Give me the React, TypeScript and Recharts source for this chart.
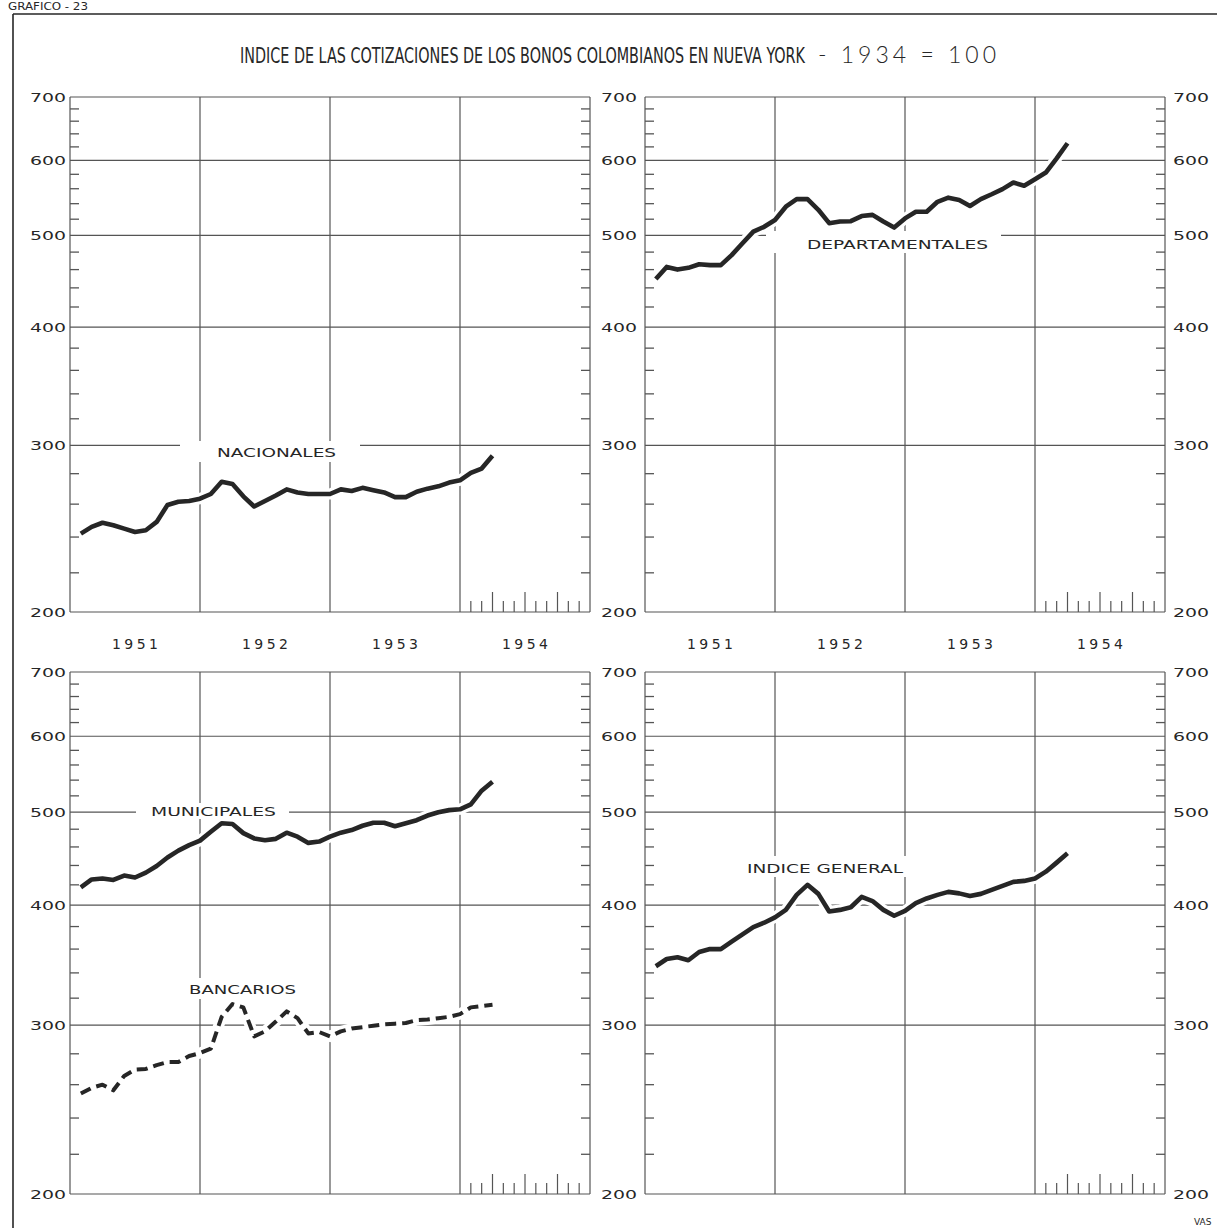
import { CartesianGrid, Line, LineChart, XAxis, YAxis } from "recharts";

// meses: ene 1951 .. mar 1954 (fin de mes), índice 1934 = 100
const nacionales = [
  242, 246, 248.5, 247, 245, 243, 244, 249, 259.5, 261.5, 262, 263.5,
  266.5, 274.5, 273, 265, 258.5, 262, 265.5, 269.5, 267.5, 266.5, 266.5, 266.5,
  269.5, 268.5, 270.5, 269, 267.5, 264.5, 264.5, 268, 270, 271.5, 274, 275.5,
  280.5, 283.5, 292.5,
];
const departamentales = [
  449.5, 463, 460, 462, 466, 465, 465, 476.5, 490.5, 504.5, 510.5, 519,
  536, 546, 546, 532, 515, 517, 517.5, 524, 525.5, 517, 509.5, 521,
  529.5, 529.5, 542.5, 548, 545, 537, 546, 552.5, 559.5, 568.5, 564, 573,
  582.5, 603, 625.5,
];
const municipales = [
  417.5, 425.5, 426.5, 425, 429.5, 427.5, 432.5, 439.5, 448.5, 456, 462, 467,
  477, 487, 486, 475.5, 469.5, 467.5, 469, 476, 471.5, 464.5, 466, 471.5,
  476, 479, 484, 487.5, 487.5, 483.5, 487, 490.5, 496, 500, 502.5, 503.5,
  509.5, 526.5, 538,
];
const bancarios = [
  254.5, 258, 260, 256.5, 265.5, 269.5, 270, 272.5, 274.5, 274.5, 278.5, 280.5,
  283.5, 306, 315.5, 313, 292, 295.5, 302.5, 310, 305, 294, 295, 292,
  295.5, 297.5, 298.5, 299.5, 300.5, 301, 301.5, 303.5, 304, 305, 306, 308,
  313, 314, 315,
];
const indiceGeneral = [
  345.5, 351.5, 353, 350.5, 357.5, 360, 360, 366.5, 373, 379.5, 383.5, 388.5,
  395.5, 410, 420, 411, 394, 395.5, 398, 408, 404, 395.5, 390, 394.5,
  402, 406.5, 410, 413, 411.5, 409, 411, 415, 419, 423, 424, 426.5,
  433.5, 443, 453,
];

const years = ["1951", "1952", "1953", "1954"];
const yearCenters = [6, 18, 30, 42];
const yearBounds = [0, 12, 24, 36, 48];
const monthTicks1954 = [37, 38, 39, 40, 41, 42, 43, 44, 45, 46, 47];
const quarterTicks = [39, 42, 45];
const majorY = [200, 300, 400, 500, 600, 700];
const minorY = [
  220, 240, 260, 280, 320, 340, 360, 380, 420, 440, 460, 480,
  520, 540, 560, 580, 620, 640, 660, 680,
];

const INK = "#262626";
const GRID = "#555";
const FONT = "'DejaVu Sans', sans-serif";
const NARROW = "'Liberation Sans Narrow', 'DejaVu Sans Condensed', sans-serif";

const toRows = (vals: number[]) => vals.map((v, i) => ({ m: i + 1, v }));

function YTick(props: any) {
  const { x, y, payload, side, showLabels } = props;
  const v = payload.value;
  if (majorY.includes(v)) {
    if (!showLabels) return <g />;
    return (
      <text x={x} y={y} dy={5} textAnchor={side === "left" ? "end" : "start"} fontSize={13} fill={INK}
        fontFamily={FONT} textLength={36} lengthAdjust="spacingAndGlyphs">
        {v}
      </text>
    );
  }
  const edge = side === "left" ? x + props.gap : x - props.gap;
  const inner = side === "left" ? edge + 9 : edge - 9;
  return <line x1={edge} x2={inner} y1={y} y2={y} stroke={GRID} strokeWidth={1.3} />;
}

function XTick(props: any) {
  const { x, y, payload, showYears } = props;
  const v = payload.value;
  const yi = yearCenters.indexOf(v);
  return (
    <g>
      {monthTicks1954.includes(v) && (
        <line x1={x} x2={x} y1={y} y2={y - (quarterTicks.includes(v) ? 20 : 11)} stroke={GRID} strokeWidth={1.2} />
      )}
      {showYears && yi >= 0 && (
        <text x={x} y={y + 37} textAnchor="middle" fontSize={14} fill={INK} fontFamily={FONT}
          textLength={46} lengthAdjust="spacing">
          {years[yi]}
        </text>
      )}
    </g>
  );
}

type Serie = { values: number[]; dashed?: boolean };

type PanelProps = {
  left: number; top: number; width: number; height: number;
  leftW: number; rightW: number; leftGap: number; rightLabels: boolean;
  xH: number; showYears: boolean; series: Serie[];
};

function Panel(p: PanelProps) {
  const xTicks = [...yearCenters.filter((t) => !monthTicks1954.includes(t)), ...monthTicks1954];
  return (
    <div style={{ position: "absolute", left: p.left, top: p.top }}>
      <LineChart width={p.width} height={p.height} margin={{ top: 17, right: 0, left: 0, bottom: 0 }}>
        <CartesianGrid yAxisId="l" stroke={GRID} strokeWidth={1.2} horizontalValues={majorY} verticalValues={yearBounds} />
        <XAxis type="number" dataKey="m" domain={[0, 48]} allowDataOverflow ticks={xTicks} interval={0}
          axisLine={false} tickLine={false} tickSize={0} tickMargin={0} height={p.xH}
          tick={(t: any) => <XTick {...t} showYears={p.showYears} />} />
        <YAxis yAxisId="l" orientation="left" type="number" scale="log" domain={[200, 700]} allowDataOverflow
          ticks={[...majorY, ...minorY]} interval={0} width={p.leftW} axisLine={false} tickLine={false}
          tickSize={0} tickMargin={p.leftGap}
          tick={(t: any) => <YTick {...t} side="left" gap={p.leftGap} showLabels />} />
        <YAxis yAxisId="r" orientation="right" type="number" scale="log" domain={[200, 700]} allowDataOverflow
          ticks={[...majorY, ...minorY]} interval={0} width={p.rightW} axisLine={false} tickLine={false}
          tickSize={0} tickMargin={8}
          tick={(t: any) => <YTick {...t} side="right" gap={8} showLabels={p.rightLabels} />} />
        {p.series.map((s, i) => (
          <Line key={"h" + i} yAxisId="r" data={toRows(s.values)} dataKey="v" type="linear" stroke="#fff"
            strokeWidth={11} dot={false} activeDot={false} isAnimationActive={false} />
        ))}
        {p.series.map((s, i) => (
          <Line key={"s" + i} yAxisId="l" data={toRows(s.values)} dataKey="v" type="linear" stroke={INK}
            strokeWidth={s.dashed ? 4 : 4.6} strokeDasharray={s.dashed ? "11 6" : undefined}
            strokeLinejoin="round" dot={false} activeDot={false} isAnimationActive={false} />
        ))}
      </LineChart>
    </div>
  );
}

const seriesLabels = [
  { text: "NACIONALES", x: 217, y: 457, w: 119, box: [180, 441, 180, 21] },
  { text: "DEPARTAMENTALES", x: 807, y: 249, w: 181, box: [766, 231, 235, 22] },
  { text: "MUNICIPALES", x: 151, y: 815.5, w: 125, box: [136, 803, 153, 16] },
  { text: "BANCARIOS", x: 189, y: 994, w: 107, box: [186, 978, 113, 21] },
  { text: "INDICE GENERAL", x: 747, y: 872.5, w: 156, box: [742, 856, 166, 21] },
];

export default function App() {
  return (
    <div style={{ position: "absolute", left: 0, top: 0, width: 1217, height: 1228, background: "#fff", overflow: "hidden" }}>
      <svg width={1217} height={1228} style={{ position: "absolute", left: 0, top: 0 }}>
        <text x={8} y={10} fontSize={10} fill={INK} fontFamily={NARROW}
          textLength={80} lengthAdjust="spacingAndGlyphs">GRAFICO - 23</text>
        <line x1={13} x2={13} y1={14} y2={1228} stroke={INK} strokeWidth={1.6} />
        <line x1={13} x2={1217} y1={14} y2={14} stroke={INK} strokeWidth={1.6} />
        <text transform="translate(240,63) scale(1,1.38)" x={0} y={0} fontSize={16} fill={INK} fontFamily={NARROW}
          textLength={565} lengthAdjust="spacingAndGlyphs">
          INDICE DE LAS COTIZACIONES DE LOS BONOS COLOMBIANOS EN NUEVA YORK
        </text>
        <text x={818} y={63} fontSize={23} fill={INK} fontFamily="Lato, sans-serif" fontWeight={300}
          textLength={178} lengthAdjust="spacing">- 1934 = 100</text>
        <text x={1194} y={1225} fontSize={9} fill={INK} fontFamily={FONT}>VAS</text>
      </svg>

      <Panel left={0} top={80} width={620} height={580} leftW={70} rightW={30} leftGap={4} rightLabels={false}
        xH={48} showYears series={[{ values: nacionales }]} />
      <Panel left={595} top={80} width={622} height={580} leftW={50} rightW={52} leftGap={8} rightLabels
        xH={48} showYears series={[{ values: departamentales }]} />
      <Panel left={0} top={655} width={620} height={559} leftW={70} rightW={30} leftGap={4} rightLabels={false}
        xH={20} showYears={false} series={[{ values: municipales }, { values: bancarios, dashed: true }]} />
      <Panel left={595} top={655} width={622} height={559} leftW={50} rightW={52} leftGap={8} rightLabels
        xH={20} showYears={false} series={[{ values: indiceGeneral }]} />

      <svg width={1217} height={1228} style={{ position: "absolute", left: 0, top: 0, pointerEvents: "none" }}>
        {seriesLabels.map((l) => (
          <g key={l.text}>
            <rect x={l.box[0]} y={l.box[1]} width={l.box[2]} height={l.box[3]} fill="#fff" />
            <text x={l.x} y={l.y} fontSize={13} fill={INK} fontFamily={FONT} textLength={l.w}
              lengthAdjust="spacingAndGlyphs">{l.text}</text>
          </g>
        ))}
      </svg>
    </div>
  );
}
